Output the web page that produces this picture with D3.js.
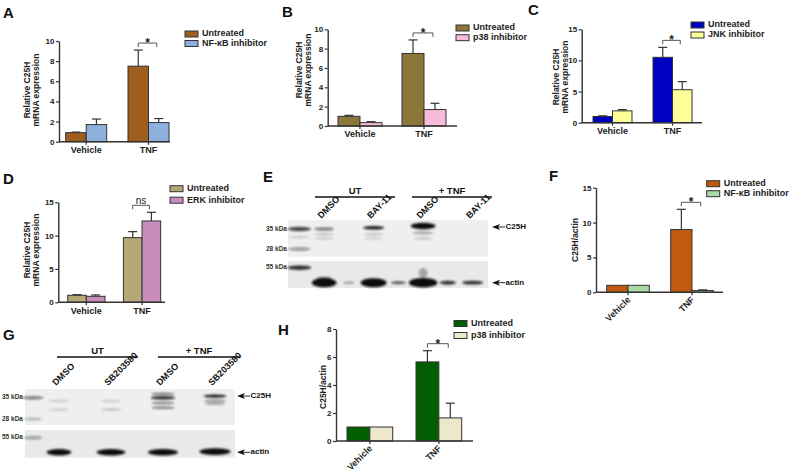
<!DOCTYPE html>
<html><head><meta charset="utf-8">
<script src="https://cdn.jsdelivr.net/npm/d3@7/dist/d3.min.js"></script>
<style>html,body{margin:0;padding:0;background:#fff;}</style>
</head><body><div id="chart"></div>
<script>
// ---------------- DATA ----------------
const categories = ["Vehicle", "TNF"];

// Panel A
const seriesA = ["Untreated", "NF-\u03BAB inhibitor"];
const untreatedA = [0.9, 7.5], untreatedA_err = [0.05, 1.6];
const inhibitorA = [1.7, 1.9], inhibitorA_err = [0.55, 0.4];
const ticksA = [0, 2, 4, 6, 8, 10];

// Panel B
const seriesB = ["Untreated", "p38 inhibitor"];
const untreatedB = [1.0, 7.5], untreatedB_err = [0.1, 1.4];
const inhibitorB = [0.35, 1.7], inhibitorB_err = [0.1, 0.65];
const ticksB = [0, 2, 4, 6, 8, 10];

// Panel C
const seriesC = ["Untreated", "JNK inhibitor"];
const untreatedC = [1.0, 10.5], untreatedC_err = [0.1, 1.6];
const inhibitorC = [1.9, 5.3], inhibitorC_err = [0.2, 1.3];
const ticksC = [0, 5, 10, 15];

// Panel D
const seriesD = ["Untreated", "ERK inhibitor"];
const untreatedD = [1.05, 9.7], untreatedD_err = [0.1, 0.9];
const inhibitorD = [0.9, 12.2], inhibitorD_err = [0.2, 1.3];
const ticksD = [0, 5, 10, 15];

// Panel F
const seriesF = ["Untreated", "NF-\u03BAB inhibitor"];
const untreatedF = [1.0, 9.0], untreatedF_err = [0, 2.9];
const inhibitorF = [1.0, 0.25], inhibitorF_err = [0, 0.1];
const ticksF = [0, 5, 10, 15];

// Panel H
const seriesH = ["Untreated", "p38 inhibitor"];
const untreatedH = [1.0, 5.65], untreatedH_err = [0, 0.8];
const inhibitorH = [1.0, 1.65], inhibitorH_err = [0, 1.05];
const ticksH = [0, 2, 4, 6, 8];

// Western blots (lanes, kDa markers, band intensities)
const lanesE = ["ladder", "UT DMSO", "g1", "UT BAY-11", "g2", "TNF DMSO", "g3", "TNF BAY-11"];
const laneLabelsE = [["UT DMSO", "DMSO"], ["UT BAY-11", "BAY-11"], ["TNF DMSO", "DMSO"], ["TNF BAY-11", "BAY-11"]];
const markersE_top = [35, 28], markersE_bot = [55];
const bandsE_top = [
  {lane: "ladder", kda: 35, w: 0.95, h: 2.2, i: 0.75},
  {lane: "ladder", kda: 28, w: 0.9, h: 1.8, i: 0.4},
  {lane: "ladder", kda: 32, w: 0.9, h: 1.5, i: 0.15},
  {lane: "UT DMSO", kda: 35, w: 0.8, h: 1.6, i: 0.55},
  {lane: "UT DMSO", kda: 33, w: 0.8, h: 1.4, i: 0.18},
  {lane: "UT DMSO", kda: 31.5, w: 0.8, h: 1.4, i: 0.14},
  {lane: "UT BAY-11", kda: 35.5, w: 0.85, h: 1.8, i: 0.95},
  {lane: "UT BAY-11", kda: 33, w: 0.8, h: 1.4, i: 0.18},
  {lane: "UT BAY-11", kda: 31.5, w: 0.8, h: 1.4, i: 0.12},
  {lane: "TNF DMSO", kda: 36.2, w: 1.0, h: 3.2, i: 1.0},
  {lane: "TNF DMSO", kda: 33.5, w: 0.85, h: 1.6, i: 0.3},
  {lane: "TNF DMSO", kda: 31.5, w: 0.8, h: 1.4, i: 0.18}
];
const bandsE_bot = [
  {lane: "ladder", kda: 55, w: 0.95, h: 2.3, i: 0.85},
  {lane: "UT DMSO", kda: 42, w: 1.0, h: 4.5, i: 1.0},
  {lane: "UT DMSO", kda: 45, w: 0.6, h: 2.2, i: 0.6},
  {lane: "g1", kda: 42, w: 0.45, h: 1.3, i: 0.3},
  {lane: "UT BAY-11", kda: 42, w: 1.05, h: 4.5, i: 1.0},
  {lane: "g2", kda: 42, w: 0.6, h: 1.5, i: 0.7},
  {lane: "TNF DMSO", kda: 42, w: 1.15, h: 4.8, i: 1.0},
  {lane: "TNF DMSO", kda: 50, w: 0.35, h: 5, i: 0.3},
  {lane: "g3", kda: 42, w: 0.65, h: 2.0, i: 0.85},
  {lane: "TNF BAY-11", kda: 42, w: 0.85, h: 1.9, i: 0.85}
];

const lanesG = ["ladder", "UT DMSO", "g1", "UT SB203580", "g2", "TNF DMSO", "g3", "TNF SB203580"];
const laneLabelsG = [["UT DMSO", "DMSO"], ["UT SB203580", "SB203580"], ["TNF DMSO", "DMSO"], ["TNF SB203580", "SB203580"]];
const markersG_top = [35, 28], markersG_bot = [55];
const bandsG_top = [
  {lane: "ladder", kda: 35, w: 0.8, h: 1.8, i: 0.5},
  {lane: "ladder", kda: 28, w: 0.7, h: 1.5, i: 0.25},
  {lane: "UT DMSO", kda: 33.8, w: 0.8, h: 1.3, i: 0.15},
  {lane: "UT DMSO", kda: 30.9, w: 0.8, h: 1.3, i: 0.15},
  {lane: "UT SB203580", kda: 33.8, w: 0.8, h: 1.3, i: 0.15},
  {lane: "UT SB203580", kda: 30.9, w: 0.8, h: 1.3, i: 0.2},
  {lane: "TNF DMSO", kda: 36.4, w: 0.9, h: 1.3, i: 0.55},
  {lane: "TNF DMSO", kda: 34.9, w: 0.95, h: 1.6, i: 0.95},
  {lane: "TNF DMSO", kda: 33.1, w: 0.9, h: 1.3, i: 0.5},
  {lane: "TNF DMSO", kda: 31.5, w: 0.9, h: 1.3, i: 0.5},
  {lane: "TNF SB203580", kda: 35.6, w: 0.9, h: 1.6, i: 0.95},
  {lane: "TNF SB203580", kda: 33.8, w: 0.85, h: 1.3, i: 0.45},
  {lane: "TNF SB203580", kda: 32.8, w: 0.8, h: 1.2, i: 0.3}
];
const bandsG_bot = [
  {lane: "ladder", kda: 55, w: 0.7, h: 1.8, i: 0.35},
  {lane: "UT DMSO", kda: 42, w: 0.95, h: 3.2, i: 1.0},
  {lane: "UT SB203580", kda: 42, w: 1.1, h: 3.2, i: 1.0},
  {lane: "TNF DMSO", kda: 42, w: 1.15, h: 3.2, i: 1.0},
  {lane: "TNF SB203580", kda: 42.6, w: 1.2, h: 3.4, i: 1.0}
];

// ---------------- DRAWING ----------------
const FONT = "Arial, 'Liberation Sans', Helvetica, sans-serif";
const svg = d3.select("#chart").append("svg").attr("width", 790).attr("height", 475)
  .style("font-family", FONT);
svg.append("rect").attr("width", 790).attr("height", 475).attr("fill", "#fff");
const defs = svg.append("defs");
defs.append("filter").attr("id", "blur").attr("x", "-50%").attr("y", "-200%").attr("width", "200%").attr("height", "500%")
  .append("feGaussianBlur").attr("stdDeviation", 1.1);

function panelLabel(t, x, y) {
  svg.append("text").attr("x", x).attr("y", y).text(t)
    .attr("font-size", 15).attr("font-weight", "bold").attr("fill", "#111");
}

function drawBar(p) {
  const g = svg.append("g");
  const y = d3.scaleLinear().domain([0, p.ymax]).range([p.y0, p.yTop]);
  const R = p.xr[1] - p.xr[0];
  const pad = (R - 2 * p.bw) / (R - p.bw);
  const xg = d3.scaleBand().domain(categories).range(p.xr).paddingInner(pad).paddingOuter(0);
  const xs = d3.scaleBand().domain(p.series).range([0, xg.bandwidth()]);
  const rows = [];
  p.series.forEach((s, si) => categories.forEach((c, ci) =>
    rows.push({s, si, c, v: p.values[si][ci], e: p.errs[si][ci]})));

  const eb = g.selectAll(".eb").data(rows.filter(d => d.e > 0)).enter().append("g")
    .attr("stroke", "#333").attr("stroke-width", 1.2);
  eb.append("line")
    .attr("x1", d => xg(d.c) + xs(d.s) + xs.bandwidth() / 2)
    .attr("x2", d => xg(d.c) + xs(d.s) + xs.bandwidth() / 2)
    .attr("y1", d => y(d.v)).attr("y2", d => y(d.v + d.e));
  eb.append("line")
    .attr("x1", d => xg(d.c) + xs(d.s) + xs.bandwidth() / 2 - 4.5)
    .attr("x2", d => xg(d.c) + xs(d.s) + xs.bandwidth() / 2 + 4.5)
    .attr("y1", d => y(d.v + d.e)).attr("y2", d => y(d.v + d.e));

  g.selectAll(".bar").data(rows).enter().append("rect")
    .attr("x", d => xg(d.c) + xs(d.s))
    .attr("width", xs.bandwidth())
    .attr("y", d => y(d.v))
    .attr("height", d => p.y0 - y(d.v))
    .attr("fill", d => p.colors[d.si])
    .attr("stroke", "#333").attr("stroke-width", 1);

  const ya = g.append("g").attr("transform", `translate(${p.ax},0)`)
    .call(d3.axisLeft(y).tickValues(p.ticks).tickSize(3).tickSizeOuter(0).tickFormat(d3.format("d")));
  ya.select(".domain").attr("stroke", "#333").attr("stroke-width", 1.4);
  ya.selectAll(".tick line").attr("stroke", "#333").attr("stroke-width", 1.2);
  ya.selectAll(".tick text").attr("font-size", 8).attr("font-weight", "bold").attr("fill", "#222")
    .attr("font-family", FONT).attr("x", -4.5);

  g.append("line").attr("x1", p.ax).attr("x2", p.xEnd).attr("y1", p.y0).attr("y2", p.y0)
    .attr("stroke", "#333").attr("stroke-width", 1.4);
  const xa = g.append("g").attr("transform", `translate(0,${p.y0})`)
    .call(d3.axisBottom(xg).tickSize(3).tickSizeOuter(0));
  xa.select(".domain").remove();
  xa.selectAll(".tick line").attr("stroke", "#333").attr("stroke-width", 1.2);
  const xt = xa.selectAll(".tick text").attr("font-size", 9).attr("font-weight", "bold")
    .attr("fill", "#222").attr("font-family", FONT);
  if (p.rotate) {
    xt.attr("text-anchor", "end").attr("y", 0).attr("dy", 0)
      .attr("transform", "translate(3,8) rotate(-45)");
  } else {
    xt.attr("y", 0).attr("dy", 0).attr("transform", `translate(0,${p.labelDy})`)
      .attr("dominant-baseline", "middle");
  }

  const yt = g.append("text").attr("transform", `translate(${p.titleX},${p.titleY}) rotate(-90)`)
    .attr("text-anchor", "middle").attr("font-size", 8.5).attr("font-weight", "bold").attr("fill", "#222");
  p.title.forEach((t, i) => yt.append("tspan").attr("x", 0).attr("dy", i === 0 ? 0 : p.titleGap).text(t));

  const lg = g.append("g").attr("transform", `translate(${p.legX},${p.legY})`);
  p.series.forEach((s, i) => {
    lg.append("rect").attr("x", 0).attr("y", i * p.legStep).attr("width", 13).attr("height", 6)
      .attr("fill", p.colors[i]).attr("stroke", "#333").attr("stroke-width", 1);
    lg.append("text").attr("x", 17).attr("y", i * p.legStep + 3).attr("dominant-baseline", "middle")
      .attr("font-size", 9).attr("font-weight", "bold").attr("fill", "#222").text(s);
  });

  const c = categories[1];
  const x1 = xg(c) + xs(p.series[0]) + xs.bandwidth() / 2;
  const x2 = xg(c) + xs(p.series[1]) + xs.bandwidth() / 2 - 2;
  const top = d3.max(rows.filter(d => d.c === c), d => d.v + d.e);
  const yb = y(top) - 7;
  g.append("path").attr("d", `M${x1},${yb + 4}V${yb}H${x2}V${yb + 4}`)
    .attr("fill", "none").attr("stroke", "#555").attr("stroke-width", 1);
  if (p.sig === "*") {
    g.append("text").attr("x", (x1 + x2) / 2).attr("y", yb + 4).attr("text-anchor", "middle")
      .attr("font-size", 12).attr("font-weight", "bold").attr("fill", "#222").text("*");
  } else {
    g.append("text").attr("x", (x1 + x2) / 2).attr("y", yb - 1).attr("text-anchor", "middle")
      .attr("font-size", 10).attr("fill", "#222").text(p.sig);
  }
}

drawBar({series: seriesA, values: [untreatedA, inhibitorA], errs: [untreatedA_err, inhibitorA_err],
  ymax: 10, ticks: ticksA, colors: ["#9D5E20", "#8FB0DC"],
  ax: 59, xEnd: 170, y0: 141.7, yTop: 41, xr: [65.7, 169], bw: 41, labelDy: 9,
  title: ["Relative C25H", "mRNA expression"], titleX: 29.5, titleY: 90, titleGap: 9,
  legX: 185, legY: 31, legStep: 9.5, sig: "*"});
drawBar({series: seriesB, values: [untreatedB, inhibitorB], errs: [untreatedB_err, inhibitorB_err],
  ymax: 10, ticks: ticksB, colors: ["#8C7638", "#F8BBD9"],
  ax: 327.7, xEnd: 457, y0: 126, yTop: 29.3, xr: [338, 446], bw: 44, labelDy: 9,
  title: ["Relative C25H", "mRNA expression"], titleX: 302, titleY: 70, titleGap: 8.5,
  legX: 456, legY: 25, legStep: 9.7, sig: "*"});
drawBar({series: seriesC, values: [untreatedC, inhibitorC], errs: [untreatedC_err, inhibitorC_err],
  ymax: 15, ticks: ticksC, colors: ["#0000C0", "#FFFF99"],
  ax: 581.7, xEnd: 702, y0: 122.7, yTop: 29.3, xr: [593, 692], bw: 39, labelDy: 8.5,
  title: ["Relative C25H", "mRNA expression"], titleX: 559, titleY: 77, titleGap: 8.5,
  legX: 691, legY: 22, legStep: 10, sig: "*"});
drawBar({series: seriesD, values: [untreatedD, inhibitorD], errs: [untreatedD_err, inhibitorD_err],
  ymax: 15, ticks: ticksD, colors: ["#B4A877", "#C98CBA"],
  ax: 58.3, xEnd: 165, y0: 302.3, yTop: 202.3, xr: [67.7, 160.7], bw: 37.3, labelDy: 9,
  title: ["Relative C25H", "mRNA expression"], titleX: 30, titleY: 250, titleGap: 8.5,
  legX: 170, legY: 185.7, legStep: 11.5, sig: "ns"});
drawBar({series: seriesF, values: [untreatedF, inhibitorF], errs: [untreatedF_err, inhibitorF_err],
  ymax: 15, ticks: ticksF, colors: ["#C25A0E", "#A7DAA7"],
  ax: 596, xEnd: 723, y0: 292.3, yTop: 187.7, xr: [606.7, 713.3], bw: 42.6, rotate: true,
  title: ["C25H/actin"], titleX: 578, titleY: 240, titleGap: 0,
  legX: 706.7, legY: 180.7, legStep: 10, sig: "*"});
drawBar({series: seriesH, values: [untreatedH, inhibitorH], errs: [untreatedH_err, inhibitorH_err],
  ymax: 8, ticks: ticksH, colors: ["#005E00", "#EDE7CC"],
  ax: 336, xEnd: 473, y0: 441, yTop: 329, xr: [347, 461.7], bw: 45.7, rotate: true,
  title: ["C25H/actin"], titleX: 326, titleY: 387, titleGap: 0,
  legX: 454, legY: 320.5, legStep: 12, sig: "*"});

function drawBlot(b) {
  const g = svg.append("g");
  const lane = d3.scaleBand().domain(b.lanes).range(b.laneRange);
  const yTop = d3.scaleLog().domain(b.topKda).range(b.topY);
  const yBot = d3.scaleLog().domain(b.botKda).range(b.botY);
  g.append("rect").attr("x", b.box[0]).attr("width", b.box[1] - b.box[0])
    .attr("y", b.upper[0]).attr("height", b.upper[1] - b.upper[0]).attr("fill", "#efefef");
  g.append("rect").attr("x", b.box[0]).attr("width", b.box[1] - b.box[0])
    .attr("y", b.lower[0]).attr("height", b.lower[1] - b.lower[0]).attr("fill", "#e9e9e9");
  const drawBands = (bands, ys) => g.append("g").attr("filter", "url(#blur)")
    .selectAll("ellipse").data(bands).enter().append("ellipse")
    .attr("cx", d => lane(d.lane) + lane.bandwidth() / 2)
    .attr("cy", d => ys(d.kda))
    .attr("rx", d => lane.bandwidth() * d.w / 2)
    .attr("ry", d => d.h)
    .attr("fill", "#111").attr("opacity", d => d.i);
  drawBands(b.bandsTop, yTop);
  drawBands(b.bandsBot, yBot);
  const mk = [...b.markersTop.map(k => ({k, y: yTop(k)})), ...b.markersBot.map(k => ({k, y: yBot(k)}))];
  g.selectAll(".mk").data(mk).enter().append("text")
    .attr("x", b.mkX).attr("y", d => d.y).attr("dominant-baseline", "middle")
    .attr("font-size", 6.5).attr("font-weight", "bold").attr("fill", "#333").text(d => d.k + " kDa");
  b.groups.forEach(gr => {
    g.append("line").attr("x1", gr.x[0]).attr("x2", gr.x[1]).attr("y1", b.groupY).attr("y2", b.groupY)
      .attr("stroke", "#111").attr("stroke-width", 1.5);
    g.append("text").attr("x", (gr.x[0] + gr.x[1]) / 2).attr("y", b.groupY - 3.5).attr("text-anchor", "middle")
      .attr("font-size", 9.5).attr("font-weight", "bold").attr("fill", "#111").text(gr.t);
  });
  g.selectAll(".ll").data(b.laneLabels).enter().append("text")
    .attr("transform", d => `translate(${lane(d[0]) + lane.bandwidth() / 2 - 3},${b.laneLabelY}) rotate(-45)`)
    .attr("font-size", 9).attr("font-weight", "bold").attr("fill", "#111").text(d => d[1]);
  const arrows = [{t: "C25H", y: yTop(b.c25h)}, {t: "actin", y: yBot(42)}];
  arrows.forEach(a => {
    const x = b.arrowX;
    g.append("path").attr("d", `M${x},${a.y}L${x + 8},${a.y - 3}L${x + 6},${a.y}L${x + 8},${a.y + 3}Z`).attr("fill", "#111");
    g.append("line").attr("x1", x + 6).attr("x2", x + 13).attr("y1", a.y).attr("y2", a.y)
      .attr("stroke", "#111").attr("stroke-width", 0.9);
    g.append("text").attr("x", x + 13.5).attr("y", a.y).attr("dominant-baseline", "middle")
      .attr("font-size", 8).attr("font-weight", "bold").attr("fill", "#111").text(a.t);
  });
}

drawBlot({lanes: lanesE, laneRange: [287, 485], box: [288, 488], upper: [220, 256.7], lower: [261, 288],
  topKda: [35, 28], topY: [229, 249], botKda: [55, 42], botY: [267.7, 282.7],
  bandsTop: bandsE_top, bandsBot: bandsE_bot, markersTop: markersE_top, markersBot: markersE_bot,
  mkX: 266, groupY: 197, groups: [{t: "UT", x: [315, 395]}, {t: "+ TNF", x: [412, 492]}],
  laneLabels: laneLabelsE, laneLabelY: 219, arrowX: 492, c25h: 35.8});
drawBlot({lanes: lanesG, laneRange: [20, 228], box: [25, 235], upper: [389, 425], lower: [430, 457.7],
  topKda: [35, 28], topY: [397.7, 419], botKda: [55, 42], botY: [437.7, 452.3],
  bandsTop: bandsG_top, bandsBot: bandsG_bot, markersTop: markersG_top, markersBot: markersG_bot,
  mkX: 2, groupY: 357, groups: [{t: "UT", x: [57, 138]}, {t: "+ TNF", x: [158, 240]}],
  laneLabels: laneLabelsG, laneLabelY: 386, arrowX: 237, c25h: 35.6});

panelLabel("A", 3, 18);
panelLabel("B", 282, 17);
panelLabel("C", 528, 15);
panelLabel("D", 3, 184);
panelLabel("E", 263, 182);
panelLabel("F", 549, 181);
panelLabel("G", 3, 340);
panelLabel("H", 278, 335);
</script></body></html>
